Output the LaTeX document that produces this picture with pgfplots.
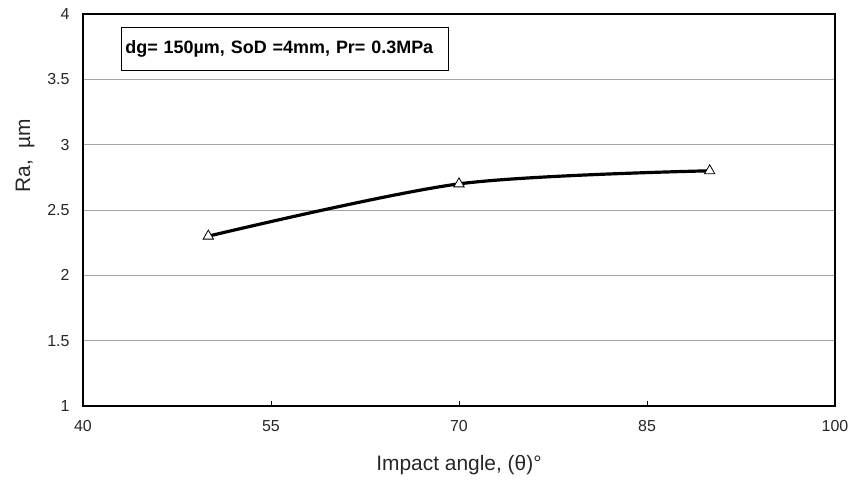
\documentclass[border=0pt]{standalone}
\usepackage{fontspec}
\setmainfont{Liberation Sans}
\usepackage{pgfplots}
\pgfplotsset{compat=1.18}
\begin{document}
\begin{tikzpicture}
\path[use as bounding box] (-83bp,-78bp) rectangle (776bp,406bp);
\begin{axis}[
  at={(0,0)}, anchor=south west,
  scale only axis, width=752bp, height=392bp,
  xmin=40, xmax=100, ymin=1, ymax=4,
  xtick={40,55,70,85,100},
  ytick={1,1.5,2,2.5,3,3.5,4},
  yticklabels={1,1.5,2,2.5,3,3.5,4},
  xticklabels={40,55,70,85,100},
  ymajorgrids,
  grid style={gray!70, line width=0.8pt},
  axis line style={line width=2.8pt, line cap=rect},
  tick align=inside,
  xtick pos=bottom,
  major x tick style={black, line width=0.8pt},
  major tick length=5bp,
  ytick style={draw=none},
  tick label style={font=\fontsize{16}{16}\selectfont, text=black!85},
  xticklabel style={yshift=-11bp},
  yticklabel style={xshift=-10bp},
  xlabel={Impact angle, (θ)\textdegree},
  ylabel={Ra,\ \ µm},
  label style={font=\fontsize{21}{21}\selectfont, text=black!85},
  xlabel style={at={(axis description cs:0.5,-0.1505)}, anchor=center},
  ylabel style={at={(axis description cs:-0.0771,0.638)}, anchor=center},
  clip=false,
]
\addplot[black, line width=3.2pt, smooth, tension=0.5,
  mark=triangle*, mark size=6bp,
  mark options={fill=white, draw=black, line width=0.8pt}]
  coordinates {(50,2.3) (70,2.7) (90,2.8)};
\node[draw=black, line width=0.8pt, fill=white, anchor=north west,
  inner xsep=4bp, inner ysep=0pt, text width=319bp, minimum height=43bp,
  font=\bfseries\fontsize{18}{18}\selectfont]
  at (rel axis cs:0.0505,0.967) {dg= 150µm, SoD =4mm, Pr= 0.3MPa};
\end{axis}
\end{tikzpicture}
\end{document}
